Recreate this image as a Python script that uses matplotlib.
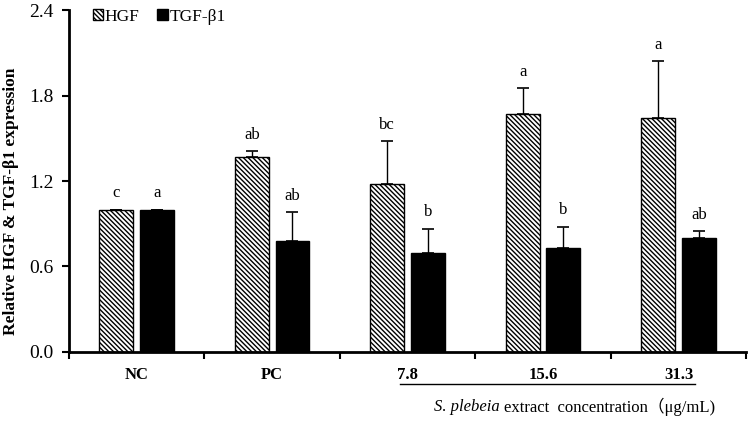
import matplotlib
matplotlib.use("Agg")
import matplotlib.pyplot as plt
import numpy as np

plt.rcParams['font.family'] = ['Liberation Serif', 'Noto Sans CJK SC', 'DejaVu Serif']
plt.rcParams['hatch.linewidth'] = 1.0

categories = ["NC", "PC", "7.8", "15.6", "31.3"]
hgf = [1.0, 1.37, 1.18, 1.67, 1.64]
hgf_err = [0.0, 0.04, 0.30, 0.18, 0.40]
tgf = [1.0, 0.78, 0.695, 0.73, 0.80]
tgf_err = [0.0, 0.20, 0.17, 0.15, 0.047]
hgf_letters = ["c", "ab", "bc", "a", "a"]
tgf_letters = ["a", "ab", "b", "b", "ab"]
yticks = [0.0, 0.6, 1.2, 1.8, 2.4]

fig = plt.figure(figsize=(7.5, 4.21), dpi=100)
ax = fig.add_axes([0.092, 0.164, 0.903, 0.812])

x = np.arange(len(categories))
w = 0.25
off = 0.15
zeros = np.zeros(len(categories))
ekw = dict(ecolor='black', elinewidth=1, capsize=4, capthick=1.2)
ax.bar(x - off, hgf, w, color='white', edgecolor='black', hatch='\\\\\\\\\\\\\\', linewidth=1.0,
       yerr=[zeros, hgf_err], error_kw=ekw, label='HGF')
ax.bar(x + off, tgf, w, color='black', edgecolor='black', linewidth=1.0,
       yerr=[zeros, tgf_err], error_kw=ekw, label='TGF-β1')

for i in range(len(categories)):
    ax.annotate(hgf_letters[i], (x[i] - off, hgf[i] + hgf_err[i]), xytext=(0, 6),
                textcoords='offset points', ha='center', va='bottom', fontsize=12)
    ax.annotate(tgf_letters[i], (x[i] + off, tgf[i] + tgf_err[i]), xytext=(0, 6),
                textcoords='offset points', ha='center', va='bottom', fontsize=12)

ax.set_xlim(-0.5, len(categories) - 0.5)
ax.set_ylim(0, 2.4)
ax.set_yticks(yticks)
ax.set_yticklabels([f"{v:.1f}" for v in yticks], fontsize=14)
ax.set_xticks(np.arange(len(categories) + 1) - 0.5)
ax.set_xticklabels([])
ax.set_xticks(x, minor=True)
ax.set_xticklabels(categories, minor=True, fontsize=12, fontweight='bold')
ax.tick_params(axis='x', which='minor', length=0, pad=11)
ax.tick_params(axis='x', which='major', length=5, width=1.5, direction='out')
ax.tick_params(axis='y', length=5, width=1.5, direction='out', pad=6)
for s in ['top', 'right']:
    ax.spines[s].set_visible(False)
for s in ['left', 'bottom']:
    ax.spines[s].set_linewidth(2)

ax.set_ylabel("Relative HGF & TGF-β1 expression", fontsize=12.5, fontweight='bold')
ax.yaxis.set_label_coords(-0.074, 0.44)

leg = ax.legend(loc='upper left', bbox_to_anchor=(0.012, 1.05), ncol=2, frameon=False,
                fontsize=12.5, handlelength=0.6, handleheight=0.6, handletextpad=0.1,
                columnspacing=1.0)

# underline for concentration group
fig.add_artist(plt.Line2D([400/750, 695/750], [1 - 384/421, 1 - 384/421],
                          color='black', linewidth=1))
t1 = fig.text(434/750, 1 - 407/421, "S. plebeia", ha='left', va='center',
              fontsize=12, style='italic')
fig.canvas.draw()
bb = t1.get_window_extent(renderer=fig.canvas.get_renderer())
fig.text((bb.x1 + 4) / fig.bbox.width, 1 - 407/421, "extract  concentration（μg/mL)",
         ha='left', va='center', fontsize=12)

fig.savefig("out.png", dpi=100)
